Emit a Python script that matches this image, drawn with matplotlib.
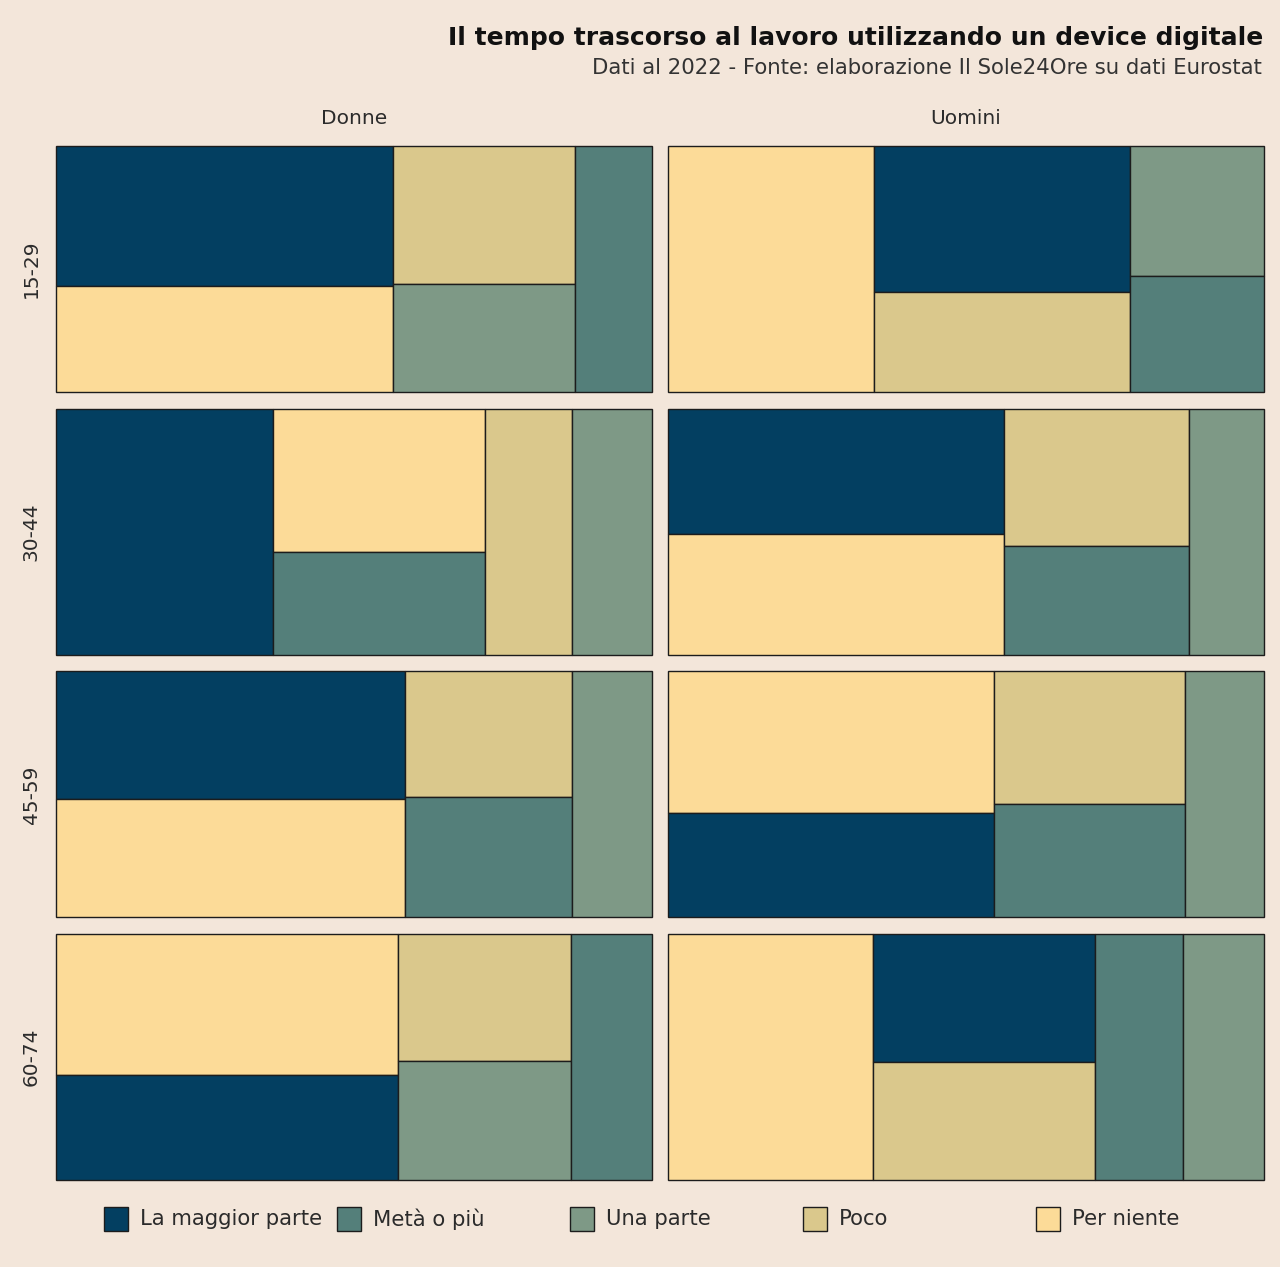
import matplotlib.pyplot as plt
from matplotlib.patches import Rectangle

# Categorie e colori
categorie = ['La maggior parte', 'Metà o più', 'Una parte', 'Poco', 'Per niente']
colori = ['#033f61', '#547f7a', '#7e9986', '#dac88c', '#fcdb98']
sessi = ['Donne', 'Uomini']
eta = ['15-29', '30-44', '45-59', '60-74']

# Quote (%) nell'ordine di `categorie`, una riga per classe di età
donne = [
    [32.1, 12.9, 13.4, 17.1, 24.5],
    [36.4, 14.9, 13.4, 14.6, 20.7],
    [30.4, 13.7, 13.5, 14.3, 28.1],
    [24.6, 13.6, 14.0, 15.0, 32.8],
]
uomini = [
    [25.6, 10.6, 11.8, 17.5, 34.5],
    [28.8, 13.7, 12.6, 17.3, 27.6],
    [23.2, 14.7, 13.3, 17.3, 31.5],
    [19.3, 14.8, 13.6, 17.9, 34.4],
]
dati = {'Donne': donne, 'Uomini': uomini}

PHI = (1 + 5 ** 0.5) / 2


def squarify(valori, x0, y0, x1, y1, ratio=PHI):
    # treemap "squarified" alla maniera di d3 (rapporto aureo)
    ordine = sorted(range(len(valori)), key=lambda i: -valori[i])
    nodi = [valori[i] for i in ordine]
    rects = {}
    value = sum(nodi)
    n = len(nodi)
    i0 = i1 = 0
    while i0 < n:
        dx, dy = x1 - x0, y1 - y0
        s = nodi[i1]
        i1 += 1
        vmin = vmax = s
        alpha = max(dy / dx, dx / dy) / (value * ratio)
        beta = s * s * alpha
        best = max(vmax / beta, beta / vmin)
        while i1 < n:
            v = nodi[i1]
            s2 = s + v
            mn, mx = min(vmin, v), max(vmax, v)
            beta = s2 * s2 * alpha
            r = max(mx / beta, beta / mn)
            if r > best:
                break
            s, vmin, vmax, best = s2, mn, mx, r
            i1 += 1
        riga = ordine[i0:i1]
        if dx < dy:
            h = dy * s / value
            x = x0
            for k in riga:
                w = dx * valori[k] / s
                rects[k] = (x, y0, w, h)
                x += w
            y0 += h
        else:
            w = dx * s / value
            y = y0
            for k in riga:
                h = dy * valori[k] / s
                rects[k] = (x0, y, w, h)
                y += h
            x0 += w
        value -= s
        i0 = i1
    return rects


W, H = 1280, 1267
sfondo = '#f3e6da'
testo = '#2b2b2b'
fig = plt.figure(figsize=(W / 100, H / 100), dpi=100, facecolor=sfondo)

left, pw, gx = 56, 596, 16
top, ph = 146, 246
gy = (1180 - top - 4 * ph) / 3

for c, sesso in enumerate(sessi):
    for r, classe in enumerate(eta):
        x = left + c * (pw + gx)
        y = top + r * (ph + gy)
        ax = fig.add_axes([x / W, 1 - (y + ph) / H, pw / W, ph / H])
        ax.set_xlim(0, pw)
        ax.set_ylim(ph, 0)
        ax.axis('off')
        valori = dati[sesso][r]
        for k, (rx, ry, rw, rh) in squarify(valori, 0, 0, pw, ph).items():
            ax.add_patch(Rectangle((rx, ry), rw, rh, facecolor=colori[k],
                                   edgecolor='#1c1c1c', linewidth=1.0,
                                   clip_on=False))
        if r == 0:
            fig.text((x + pw / 2) / W, 1 - 118 / H, sesso, ha='center',
                     va='center', fontsize=14.5, color=testo)
        if c == 0:
            fig.text(31 / W, 1 - (y + ph / 2) / H, classe, ha='center',
                     va='center', rotation=90, fontsize=14.5, color=testo)

fig.text(1263 / W, 1 - 38 / H,
         'Il tempo trascorso al lavoro utilizzando un device digitale',
         ha='right', va='center', fontsize=18, fontweight='bold',
         color='#111111')
fig.text(1262 / W, 1 - 68 / H,
         'Dati al 2022 - Fonte: elaborazione Il Sole24Ore su dati Eurostat',
         ha='right', va='center', fontsize=15.3, color='#333333')

# legenda
for i, (cat, col) in enumerate(zip(categorie, colori)):
    lx = 104 + i * 233
    fig.add_artist(Rectangle((lx / W, 1 - 1231 / H), 24 / W, 24 / H,
                             facecolor=col, edgecolor='#1c1c1c',
                             linewidth=1.0, transform=fig.transFigure))
    fig.text((lx + 36) / W, 1 - 1219 / H, cat, ha='left', va='center',
             fontsize=15.2, color=testo)

fig.savefig('out.png', dpi=100, facecolor=sfondo)
